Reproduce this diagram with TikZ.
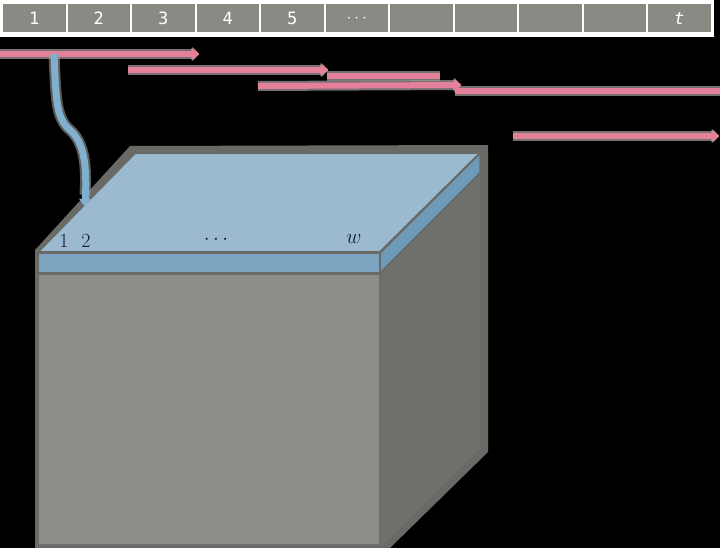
\documentclass[tikz,border=0pt]{standalone}
\usepackage{fontspec}
\newfontfamily\cellfont{DejaVu Sans Mono}
\usetikzlibrary{arrows.meta}
\definecolor{cellgrey}{HTML}{8A8A84}
\definecolor{pinkc}{HTML}{E4809A}
\definecolor{haloc}{HTML}{9C9896}
\definecolor{bluec}{HTML}{80B0CE}
\definecolor{topc}{HTML}{9BBAD0}
\definecolor{bandc}{HTML}{7CA4C0}
\definecolor{rbandc}{HTML}{6E9AB9}
\definecolor{frontc}{HTML}{8C8D87}
\definecolor{rightc}{HTML}{70716C}
\definecolor{edgec}{HTML}{696A65}
\definecolor{labc}{HTML}{141A28}
\tikzset{
  cellbox/.style={fill=cellgrey, draw=none, minimum width=62.5pt, minimum height=28pt, inner sep=0pt, text=white, font=\cellfont\fontsize{17}{19}\selectfont},
  halo/.style={draw=haloc, line width=10pt, opacity=0.75},
  pinkline/.style={draw=pinkc, line width=6pt},
  pinkarrow/.style={pinkline, -{Triangle[length=8pt,width=12pt,round]}},
  haloarrow/.style={halo, -{Triangle[length=8pt,width=16pt,round]}},
  cubelabel/.style={inner sep=0pt, text=labc, font=\fontsize{20}{22}\selectfont},
}
\begin{document}
\begin{tikzpicture}[x=1pt,y=-1pt]
\useasboundingbox[fill=black] (0,0) rectangle (720,548);
% top bar
\fill[white] (0,0) rectangle (714,37);
\foreach \i/\t in {1/1,2/2,3/3,4/4,5/5,6/{$\cdots$},7/{},8/{},9/{},10/{},11/{\textit{t}}}{
  \node[cellbox] (c\i) at ({2+64.5*(\i-0.5)},18.5) {\t};
}
% cube
\fill[edgec] (35,250) -- (130,146) -- (488,145) -- (488,452) -- (390,548) -- (35,548) -- cycle;
\fill[rightc] (382,273) -- (480,173) -- (480,448) -- (382,546) -- cycle;
\fill[frontc, draw=edgec!85!frontc, line width=2pt] (38,274) rectangle (380,545);
\filldraw[fill=bandc, draw=edgec, line width=2pt] (38,253) rectangle (380,273);
\filldraw[fill=rbandc, draw=edgec, line width=1.5pt] (380,253) -- (480,153) -- (480,173) -- (380,273) -- cycle;
\filldraw[fill=topc, draw=edgec, line width=2pt] (38,252) -- (135,153) -- (480,153) -- (380,252) -- cycle;
\node[cubelabel] (l1) at (64,241) {1};
\node[cubelabel] (l2) at (86,241) {2};
\node[cubelabel] (ld) at (216,240) {$\cdots$};
\node[cubelabel] (lw) at (354,239) {$w$};
% pink arrows
\coordinate (a1s) at (0,54);   \coordinate (a1e) at (199,54);
\coordinate (a2s) at (128,70); \coordinate (a2e) at (328,70);
\coordinate (b1s) at (327,76); \coordinate (b1e) at (440,76);
\coordinate (a3s) at (258,86); \coordinate (a3e) at (461,85);
\coordinate (b2s) at (455,91); \coordinate (b2e) at (720,91);
\coordinate (a4s) at (513,136);\coordinate (a4e) at (719,136);
\foreach \s/\e in {a1s/a1e,a2s/a2e,a3s/a3e,a4s/a4e}{
  \draw[haloarrow] (\s) -- (\e);
}
\foreach \s/\e in {b1s/b1e,b2s/b2e}{
  \draw[halo] (\s) -- (\e);
}
\foreach \s/\e in {b1s/b1e,b2s/b2e}{
  \draw[pinkline] (\s) -- (\e);
}
\foreach \s/\e in {a1s/a1e,a2s/a2e,a3s/a3e,a4s/a4e}{
  \draw[pinkarrow] (\s) -- (\e);
}
% blue wavy arrow
\coordinate (bs) at (54,54);
\coordinate (bm) at (70,130);
\coordinate (be) at (85,207);
\draw[draw=haloc, line width=11pt, opacity=0.6] (bs) .. controls (56,100) and (56,118) .. (bm) .. controls (84,142) and (87,165) .. (85,195);
\draw[draw=bluec, line width=7pt, -{Triangle[length=8pt,width=12pt]}] (bs) .. controls (56,100) and (56,118) .. (bm) .. controls (84,142) and (87,165) .. (be);
\end{tikzpicture}
\end{document}
